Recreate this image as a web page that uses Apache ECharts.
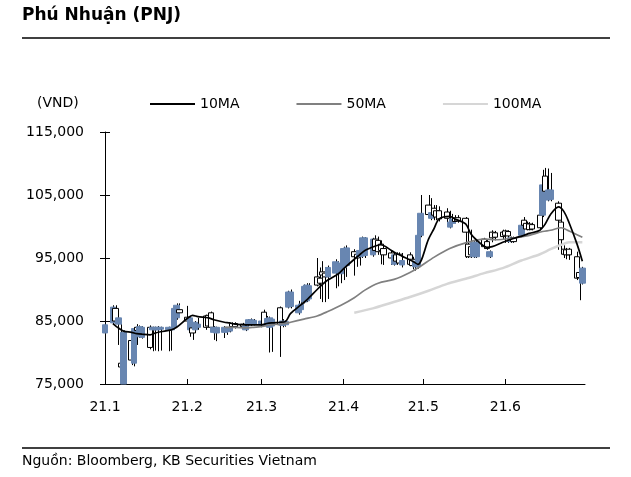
<!DOCTYPE html>
<html><head><meta charset="utf-8">
<script src="https://cdn.jsdelivr.net/npm/echarts@6/dist/echarts.min.js"></script>
<style>html,body{margin:0;padding:0;background:#fff}#c{width:631px;height:477px}</style>
</head><body><div id="c"></div>
<script>
// Trading-day dates (2021, MM-DD)
const dates = [
'01-01','01-04','01-05','01-06','01-07','01-08','01-11','01-12','01-13','01-14','01-15','01-18','01-19','01-20','01-21','01-22','01-25','01-26','01-27','01-28','01-29',
'02-01','02-02','02-03','02-04','02-05','02-08','02-09','02-10','02-11','02-12','02-15','02-16','02-17','02-18','02-19','02-22','02-23','02-24','02-25','02-26',
'03-01','03-02','03-03','03-04','03-05','03-08','03-09','03-10','03-11','03-12','03-15','03-16','03-17','03-18','03-19','03-22','03-23','03-24','03-25','03-26','03-29','03-30','03-31',
'04-01','04-02','04-05','04-06','04-07','04-08','04-09','04-12','04-13','04-14','04-15','04-16','04-19','04-20','04-21','04-22','04-23','04-26','04-27','04-28','04-29','04-30',
'05-03','05-04','05-05','05-06','05-07','05-10','05-11','05-12','05-13','05-14','05-17','05-18','05-19','05-20','05-21','05-24','05-25','05-26','05-27','05-28','05-31',
'06-01','06-02','06-03','06-04','06-07','06-08','06-09','06-10','06-11','06-14','06-15','06-16','06-17','06-18','06-21','06-22','06-23','06-24','06-25','06-28','06-29','06-30'
];
const open = [
84400,87200,85000,85500,77700,83200,78800,83800,83500,84100,84000,80800,84000,84000,84000,84000,84000,84000,87000,87500,86300,
85000,85500,83100,84800,84500,84000,84200,84000,84000,84000,84000,83800,84000,84100,84100,84100,84200,85200,85200,85100,
85000,84400,85400,85500,85300,84400,85000,84900,89600,89600,87500,87700,90500,90700,90600,90700,91000,92300,92000,93500,94400,94200,94000,
96500,96600,95200,95000,96200,98200,98200,98000,96200,96000,96200,95500,95000,95500,94500,94200,94600,94000,93800,94500,98600,102100,
101900,102200,101800,101500,101200,101300,100700,101200,100800,100900,99100,95200,95500,97500,97500,96800,96500,96000,98200,98300,98400,
98600,98500,98200,97600,100200,100200,99600,99500,99600,99800,106600,105600,105800,105800,101000,97900,95600,95500,95500,91800,91900,93400
];
const close = [
83100,84700,87000,84500,78300,75000,81900,78300,84000,82500,82400,84000,83600,83600,83600,83700,83600,83600,84000,85500,86800,
85600,83600,83900,83600,84000,85800,85900,86300,83200,83100,83200,83300,83400,84600,84600,84500,83600,84400,84400,84500,
84400,86400,84200,84000,84200,87100,84300,84400,87200,87300,86300,86800,88000,88200,88500,92000,91800,92800,92600,92000,92600,92800,92500,
93500,93800,96000,95600,95200,95300,95400,95500,98000,97800,97200,96500,95800,94000,95500,95600,93900,95500,94800,93600,93600,98600,
103400,101300,102900,102500,102500,102300,99900,100500,101300,101400,101300,97200,96800,95200,95200,98000,97600,95200,99100,99000,99100,
99300,99200,97600,98200,98600,101000,100500,100400,100300,101800,101800,108000,104200,104300,103700,100700,96400,96300,96400,95200,92700,91000
];
const low = [
82900,84500,84800,81200,77400,75000,78000,77800,81200,82300,82200,80500,80200,80300,80200,80300,80200,80300,83800,85200,86000,
84800,82500,82000,83400,83600,83600,84000,83800,82000,81800,82300,82800,83200,83900,83800,83700,83400,84200,84200,84300,
84000,84200,84000,80000,80100,79300,84000,84100,87000,87000,86000,86500,87800,88000,88300,90500,88500,88000,88000,88500,90200,90500,91000,
91500,92000,92200,93600,93800,95000,95000,95200,96000,95500,94000,93900,93900,93800,93900,94000,93500,93700,93200,93000,93300,98300,
101500,101000,101000,101000,100800,100600,99700,100000,100500,100600,95000,95000,95000,95000,95000,96500,96300,95000,97500,97800,97900,
97400,97400,97400,97400,98300,99800,99400,99400,99400,99500,101500,105300,104000,104000,96300,96000,95000,94800,94700,91500,88300,90800
];
const high = [
85200,87500,87500,85800,84500,83500,82500,84000,84500,84300,84200,84300,84100,84100,84200,84100,84100,84100,87200,87800,87800,
87400,85800,84200,85000,85500,86000,86200,86500,84200,84100,84200,84000,84200,84800,84800,84700,84400,85300,85400,85300,
85500,86800,85800,85700,85500,87300,85300,85100,89800,90000,88200,88000,90800,91000,91000,95000,93500,94500,93500,93800,94800,94500,94300,
96800,97000,96400,96200,96500,98400,98300,98200,98600,98400,97800,96800,96200,95900,95900,95900,95800,95900,95200,94700,101500,105000,
105000,104500,103400,103400,103200,102900,102500,102000,101800,101800,101500,100700,99500,97700,97800,98200,98000,96200,99400,99300,99500,
99500,99400,98400,98400,100400,101500,100800,100700,100600,102000,109000,109300,109200,108500,104000,103700,97000,96600,96600,96000,92900,93600
];
// Moving averages
const ma10 = [['01-04',84600],['01-06',83900],['01-08',83400],['01-11',83200],['01-13',83000],['01-15',82900],['01-18',82800],['01-20',83100],['01-22',83300],['01-26',83600],['01-28',84000],['02-01',85400],['02-03',85900],['02-05',85700],['02-09',85500],['02-11',85200],['02-15',84800],['02-17',84700],['02-19',84500],['02-23',84400],['02-25',84400],['03-01',84400],['03-03',84600],['03-05',84700],['03-08',84800],['03-10',84900],['03-12',86200],['03-16',87600],['03-18',88300],['03-22',90000],['03-24',90800],['03-26',91500],['03-30',92500],['04-01',93300],['04-05',94800],['04-07',95500],['04-09',96200],['04-13',96900],['04-15',97100],['04-19',96200],['04-21',95700],['04-23',95300],['04-27',94500],['04-29',94000],['05-03',98000],['05-05',99600],['05-07',101200],['05-11',101600],['05-13',101200],['05-17',100400],['05-19',98800],['05-21',97900],['05-25',96700],['05-27',96800],['05-31',97500],['06-02',97800],['06-04',98100],['06-08',98600],['06-10',98900],['06-14',99400],['06-16',100400],['06-18',101900],['06-21',103100],['06-23',102400],['06-25',100600],['06-28',97200],['06-30',94500]];
const ma50 = [['02-15',84000],['02-19',84000],['02-23',83900],['02-26',84000],['03-02',84200],['03-05',84400],['03-10',84600],['03-12',84800],['03-17',85300],['03-22',85800],['03-26',86500],['03-31',87500],['04-05',88700],['04-09',89900],['04-14',91000],['04-20',91600],['04-26',92700],['04-30',93700],['05-05',95100],['05-11',96500],['05-17',97400],['05-24',98000],['05-28',97900],['06-03',98100],['06-09',98500],['06-15',99200],['06-18',99400],['06-22',99800],['06-25',99300],['06-30',98300]];
const ma100 = [['04-05',86300],['04-12',87000],['04-19',87900],['04-26',88800],['05-03',89800],['05-10',90900],['05-17',91700],['05-24',92600],['05-31',93400],['06-07',94600],['06-14',95600],['06-18',96400],['06-22',97100],['06-25',97500],['06-30',97500]];
const yMin = 75000, yMax = 115000, yStep = 10000;
const xStart = '2021-01-01', xEnd = '2021-07-01';
const legendNames = ['10MA','50MA','100MA'];

const T = d => '2021-' + d;
const FONT = 'DejaVu Sans';
const chart = echarts.init(document.getElementById('c'), null, {renderer:'canvas'});
const hiLo = dates.map((d,i) => [T(d), low[i], high[i]]);
const bodies = dates.map((d,i) => [T(d), open[i], close[i], Math.min(open[i],close[i]), Math.max(open[i],close[i])]);

chart.setOption({
  animation:false,
  backgroundColor:'#fff',
  grid:{left:105, right:46, top:132, bottom:93},
  legend:{data:legendNames, left:150, top:97, padding:0, icon:'rect', itemWidth:45, itemHeight:2, itemGap:57,
    textStyle:{fontFamily:FONT, fontSize:14, color:'#000'}},
  xAxis:{type:'time', min:xStart, max:xEnd, splitNumber:6,
    minInterval:28*86400000, maxInterval:31*86400000,
    axisLine:{lineStyle:{color:'#000', width:1}},
    axisTick:{show:true, inside:true, length:5, lineStyle:{color:'#000'}},
    splitLine:{show:false},
    axisLabel:{color:'#000', fontFamily:FONT, fontSize:14, margin:16, hideOverlap:false,
      formatter:(v)=>{const m = new Date(v).getMonth(); return m===6 ? '' : '21.' + (m+1);}}},
  yAxis:[
    {type:'value', min:yMin, max:yMax, interval:yStep,
     axisLine:{show:true, lineStyle:{color:'#000'}},
     axisTick:{show:true, length:5, lineStyle:{color:'#000'}},
     splitLine:{show:false},
     axisLabel:{color:'#000', fontFamily:FONT, fontSize:14, margin:21, formatter:v=>v.toLocaleString('en-US')}},
    {type:'value', min:yMin, max:yMax, interval:yStep, position:'left',
     axisLine:{show:false}, axisTick:{show:true, inside:true, length:5, lineStyle:{color:'#000'}},
     axisLabel:{show:false}, splitLine:{show:false}}
  ],
  series:[
    {type:'custom', name:'hilo', data:hiLo, encode:{x:0, y:[1,2]}, z:2, silent:true,
     renderItem:(params, api)=>{
       const x = api.value(0);
       const a = api.coord([x, api.value(1)]);
       const b = api.coord([x, api.value(2)]);
       const px = Math.round(a[0]) + 0.5;
       return {type:'line', shape:{x1:px, y1:a[1], x2:px, y2:b[1]}, style:{stroke:'#000', lineWidth:1}};
     }},
    {type:'candlestick', name:'PNJ', data:bodies, encode:{x:0, y:[1,2,3,4]}, barWidth:6, z:3,
     itemStyle:{color:'#ffffff', color0:'#6886B1', borderColor:'#000000', borderColor0:'#6886B1', borderWidth:1}},
    {type:'line', name:'100MA', data:ma100.map(p=>[T(p[0]),p[1]]), showSymbol:false, smooth:0.3, z:4,
     color:'#D6D6D6', lineStyle:{color:'#D6D6D6', width:2.5}},
    {type:'line', name:'50MA', data:ma50.map(p=>[T(p[0]),p[1]]), showSymbol:false, smooth:0.3, z:5,
     color:'#808080', lineStyle:{color:'#808080', width:1.7}},
    {type:'line', name:'10MA', data:ma10.map(p=>[T(p[0]),p[1]]), showSymbol:false, smooth:0.3, z:6,
     color:'#000000', lineStyle:{color:'#000000', width:1.7}}
  ],
  graphic:[
    {type:'text', left:22, top:7, style:{text:'Phú Nhuận (PNJ)', font:'bold 17px "DejaVu Sans"', fill:'#000'}},
    {type:'line', shape:{x1:22, y1:38, x2:610, y2:38}, style:{stroke:'#000', lineWidth:1.5}},
    {type:'text', left:37, top:96, style:{text:'(VND)', font:'14px "DejaVu Sans"', fill:'#000'}},
    {type:'line', shape:{x1:22, y1:448, x2:610, y2:448}, style:{stroke:'#000', lineWidth:1.5}},
    {type:'text', left:22, top:454, style:{text:'Nguồn: Bloomberg, KB Securities Vietnam', font:'14px "DejaVu Sans"', fill:'#000'}}
  ]
});
</script></body></html>
